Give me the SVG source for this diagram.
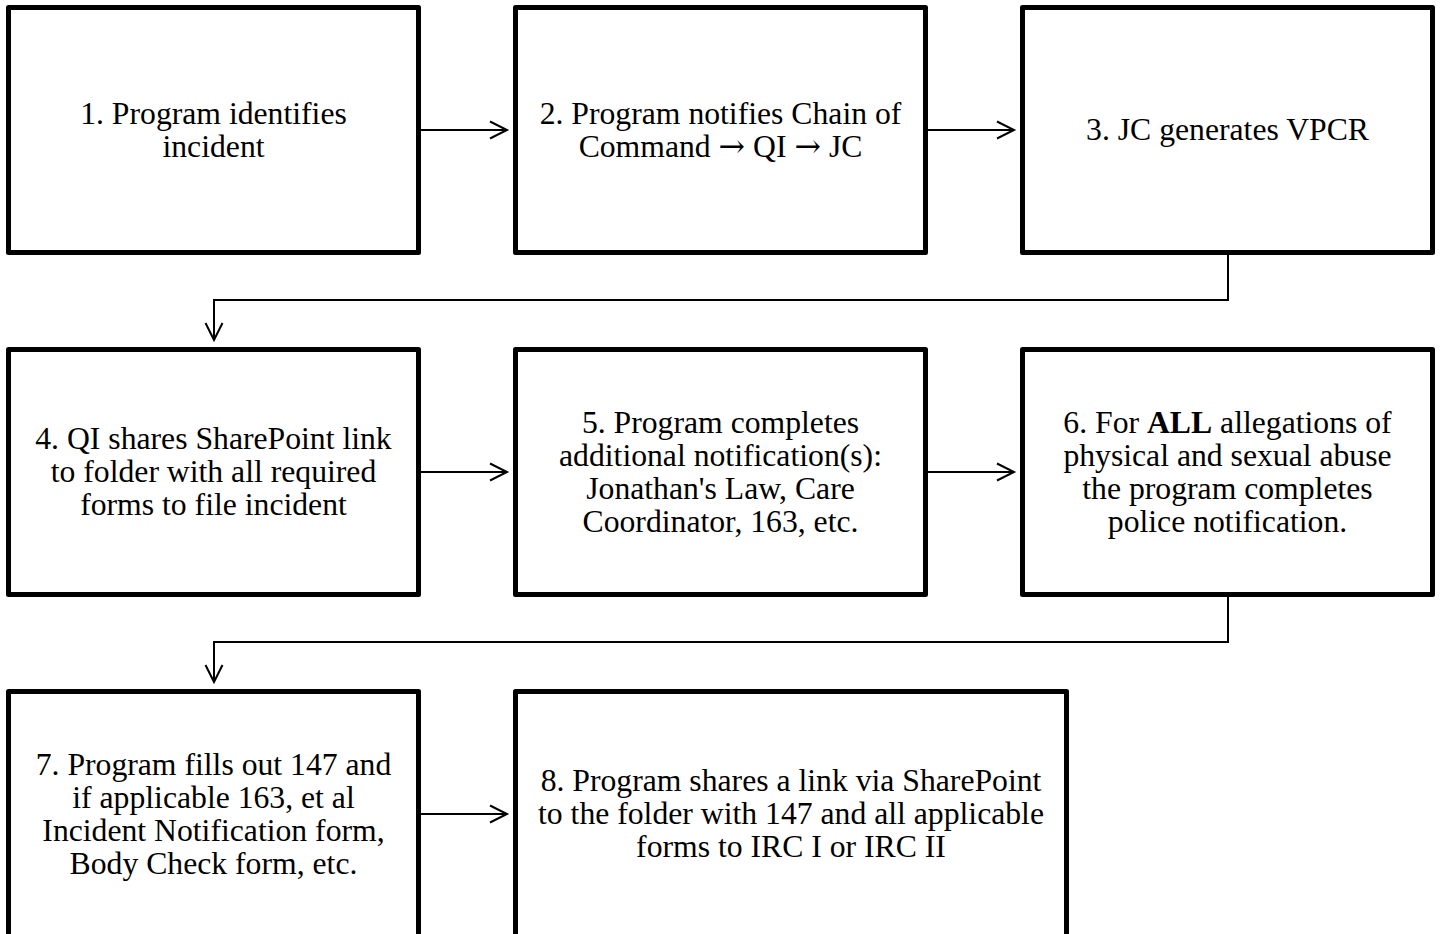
<svg xmlns="http://www.w3.org/2000/svg" width="1440" height="934" viewBox="0 0 1440 934">
<style>
.box{fill:#fff;stroke:#000;stroke-width:5;stroke-linejoin:round}
.t{font-family:"Liberation Serif","Times New Roman",serif;font-size:31.7px;fill:#000;text-anchor:middle}
.ar{font-family:"DejaVu Serif",serif;font-weight:normal}
.c{fill:none;stroke:#000;stroke-width:2}
</style>
<defs>
<marker id="ah" markerUnits="userSpaceOnUse" markerWidth="24" markerHeight="24" viewBox="-20 -12 24 24" refX="0" refY="0" orient="auto">
<path d="M-17,-8.5 L0,0 L-17,8.5" fill="none" stroke="#000" stroke-width="2"/>
</marker>
</defs>
<rect width="1440" height="934" fill="#fff"/>
<g id="connectors">
<line class="c" x1="421" y1="130" x2="507" y2="130" marker-end="url(#ah)"/>
<line class="c" x1="928" y1="130" x2="1014" y2="130" marker-end="url(#ah)"/>
<path class="c" d="M1228,255 V300 H214 V340" marker-end="url(#ah)"/>
<line class="c" x1="421" y1="472" x2="507" y2="472" marker-end="url(#ah)"/>
<line class="c" x1="928" y1="472" x2="1014" y2="472" marker-end="url(#ah)"/>
<path class="c" d="M1228,597 V642 H214 V682" marker-end="url(#ah)"/>
<line class="c" x1="421" y1="814" x2="507" y2="814" marker-end="url(#ah)"/>
</g>
<g id="n1">
<rect class="box" x="8.5" y="7.5" width="410" height="245"/>
<text class="t"><tspan x="213.5" y="123.5">1. Program identifies</tspan><tspan x="213.5" y="156.5">incident</tspan></text>
</g>
<g id="n2">
<rect class="box" x="515.5" y="7.5" width="410" height="245"/>
<text class="t"><tspan x="720.5" y="123.5">2. Program notifies Chain of</tspan><tspan x="720.5" y="156.5">Command <tspan class="ar">→</tspan> QI <tspan class="ar">→</tspan> JC</tspan></text>
</g>
<g id="n3">
<rect class="box" x="1022.5" y="7.5" width="410" height="245"/>
<text class="t"><tspan x="1227.5" y="140">3. JC generates VPCR</tspan></text>
</g>
<g id="n4">
<rect class="box" x="8.5" y="349.5" width="410" height="245"/>
<text class="t"><tspan x="213.5" y="449">4. QI shares SharePoint link</tspan><tspan x="213.5" y="482">to folder with all required</tspan><tspan x="213.5" y="515">forms to file incident</tspan></text>
</g>
<g id="n5">
<rect class="box" x="515.5" y="349.5" width="410" height="245"/>
<text class="t"><tspan x="720.5" y="432.5">5. Program completes</tspan><tspan x="720.5" y="465.5">additional notification(s):</tspan><tspan x="720.5" y="498.5">Jonathan's Law, Care</tspan><tspan x="720.5" y="531.5">Coordinator, 163, etc.</tspan></text>
</g>
<g id="n6">
<rect class="box" x="1022.5" y="349.5" width="410" height="245"/>
<text class="t"><tspan x="1227.5" y="432.5">6. For <tspan font-weight="bold">ALL</tspan> allegations of</tspan><tspan x="1227.5" y="465.5">physical and sexual abuse</tspan><tspan x="1227.5" y="498.5">the program completes</tspan><tspan x="1227.5" y="531.5">police notification.</tspan></text>
</g>
<g id="n7">
<rect class="box" x="8.5" y="691.5" width="410" height="245"/>
<text class="t"><tspan x="213.5" y="774.5">7. Program fills out 147 and</tspan><tspan x="213.5" y="807.5">if applicable 163, et al</tspan><tspan x="213.5" y="840.5">Incident Notification form,</tspan><tspan x="213.5" y="873.5">Body Check form, etc.</tspan></text>
</g>
<g id="n8">
<rect class="box" x="515.5" y="691.5" width="551" height="245"/>
<text class="t"><tspan x="791" y="791">8. Program shares a link via SharePoint</tspan><tspan x="791" y="824">to the folder with 147 and all applicable</tspan><tspan x="791" y="857">forms to IRC I or IRC II</tspan></text>
</g>
</svg>
